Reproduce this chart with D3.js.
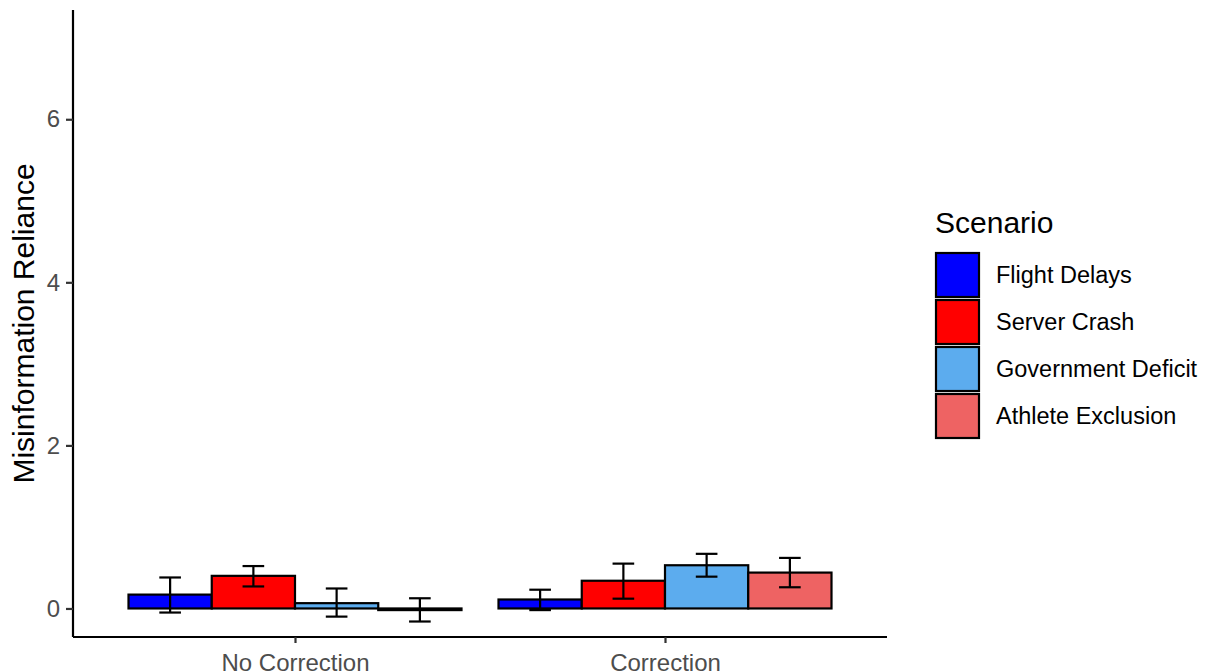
<!DOCTYPE html>
<html>
<head>
<meta charset="utf-8">
<script src="https://cdn.jsdelivr.net/npm/d3@7"></script>
<style>
  html, body { margin: 0; padding: 0; background: #fff; }
  svg { display: block; font-family: "Liberation Sans", Arial, sans-serif; }
</style>
</head>
<body>
<svg id="chart" width="1211" height="672"></svg>
<script>
// Conditions on the x axis and scenarios within each group
const conditions = ["No Correction", "Correction"];
const scenarios = ["Flight Delays", "Server Crash", "Government Deficit", "Athlete Exclusion"];
const scenarioColors = ["#0000FF", "#FF0000", "#5CACEE", "#EE6363"];

// Mean misinformation reliance per condition and scenario
const meanNoCorrection = [0.17, 0.40, 0.065, -0.02];
const meanCorrection = [0.11, 0.34, 0.53, 0.44];

// Error bar limits
const lowerNoCorrection = [-0.05, 0.27, -0.10, -0.16];
const upperNoCorrection = [0.38, 0.52, 0.245, 0.125];
const lowerCorrection = [-0.02, 0.12, 0.39, 0.26];
const upperCorrection = [0.23, 0.55, 0.67, 0.62];

const yTicks = [0, 2, 4, 6];

const rows = [
  { condition: conditions[0], mean: meanNoCorrection, lo: lowerNoCorrection, hi: upperNoCorrection },
  { condition: conditions[1], mean: meanCorrection, lo: lowerCorrection, hi: upperCorrection }
];
const records = [];
rows.forEach(r => scenarios.forEach((s, i) => {
  records.push({ condition: r.condition, scenario: s, mean: r.mean[i], lo: r.lo[i], hi: r.hi[i] });
}));

const svg = d3.select("#chart");
const plotLeft = 73, plotRight = 887, plotTop = 10, plotBottom = 637;

const x = d3.scalePoint().domain(conditions).range([plotLeft, plotRight]).padding(0.6);
const step = x.step();
const inner = d3.scaleBand().domain(scenarios).range([-0.45 * step, 0.45 * step]);
const y = d3.scaleLinear().domain([-0.35, 7.34]).range([plotBottom, plotTop]);
const color = d3.scaleOrdinal().domain(scenarios).range(scenarioColors);

// Bars
svg.append("g").selectAll("rect").data(records).join("rect")
  .attr("x", d => x(d.condition) + inner(d.scenario))
  .attr("width", inner.bandwidth())
  .attr("y", d => y(Math.max(0, d.mean)))
  .attr("height", d => Math.abs(y(d.mean) - y(0)))
  .attr("fill", d => color(d.scenario))
  .attr("stroke", "#000")
  .attr("stroke-width", 2.2);

// Error bars
const capHalf = inner.bandwidth() * 0.13;
const eb = svg.append("g").attr("stroke", "#000").attr("stroke-width", 2.2).attr("fill", "none");
records.forEach(d => {
  const cx = x(d.condition) + inner(d.scenario) + inner.bandwidth() / 2;
  eb.append("line").attr("x1", cx).attr("x2", cx).attr("y1", y(d.lo)).attr("y2", y(d.hi));
  eb.append("line").attr("x1", cx - capHalf).attr("x2", cx + capHalf).attr("y1", y(d.lo)).attr("y2", y(d.lo));
  eb.append("line").attr("x1", cx - capHalf).attr("x2", cx + capHalf).attr("y1", y(d.hi)).attr("y2", y(d.hi));
});

// Axes
const yAxis = svg.append("g").attr("transform", `translate(${plotLeft},0)`)
  .call(d3.axisLeft(y).tickValues(yTicks).tickSize(7).tickPadding(6).tickFormat(d3.format("d")));
const xAxis = svg.append("g").attr("transform", `translate(0,${plotBottom})`)
  .call(d3.axisBottom(x).tickSize(7).tickPadding(10));
[yAxis, xAxis].forEach(g => {
  g.select(".domain").attr("stroke", "#000").attr("stroke-width", 2.2);
  g.selectAll(".tick line").attr("stroke", "#333").attr("stroke-width", 2.2);
  g.selectAll(".tick text").attr("fill", "#4D4D4D").style("font-size", "24px")
    .style("font-family", "\"Liberation Sans\", Arial, sans-serif");
});
yAxis.select(".domain").attr("d", `M0,${plotBottom}V${plotTop}`);
xAxis.select(".domain").attr("d", `M${plotLeft},0H${plotRight}`);
xAxis.selectAll(".tick line").attr("y2", 6);
xAxis.selectAll(".tick text").attr("dy", "0.71em");

// Y axis title
svg.append("text")
  .attr("transform", `translate(34,${(plotTop + plotBottom) / 2}) rotate(-90)`)
  .attr("text-anchor", "middle")
  .style("font-size", "30px")
  .attr("fill", "#000")
  .text("Misinformation Reliance");

// Legend
const legend = svg.append("g").attr("transform", "translate(935,0)");
legend.append("text").attr("x", 0).attr("y", 233)
  .style("font-size", "30px").attr("fill", "#000").text("Scenario");
const keyH = 47;
scenarios.forEach((s, i) => {
  const ky = 253 + i * keyH;
  legend.append("rect").attr("x", 1).attr("y", ky).attr("width", 43).attr("height", 44)
    .attr("fill", color(s)).attr("stroke", "#000").attr("stroke-width", 2.2);
  legend.append("text").attr("x", 61).attr("y", ky + 22).attr("dy", "0.36em")
    .style("font-size", "23.5px").attr("fill", "#000").text(s);
});
</script>
</body>
</html>
